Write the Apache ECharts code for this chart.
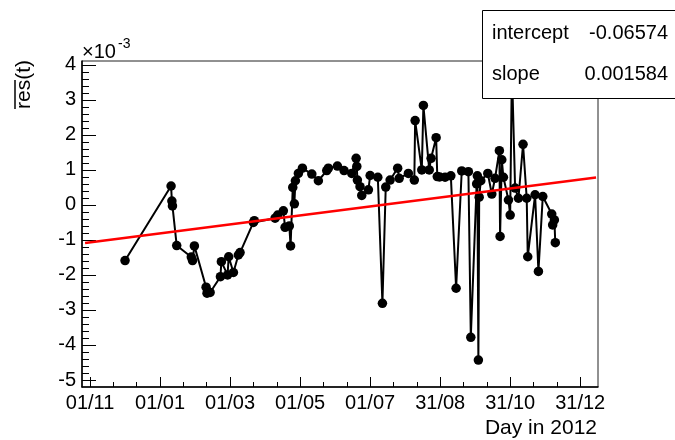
<!DOCTYPE html>
<html>
<head>
<meta charset="utf-8">
<title>res(t) vs day in 2012</title>
<script src="https://cdn.jsdelivr.net/npm/echarts@6/dist/echarts.min.js"></script>
<style>
  html, body { margin: 0; padding: 0; background: #fff; }
  #chart { width: 675px; height: 440px; }
</style>
</head>
<body>
<div id="chart"></div>
<script>
// Day number counted from 1 Jan 2012 (negative = late 2011)
const dayIn2012 = [
  -30.5, 9.6, 10.3, 10.8, 14.5, 27.2, 28.3, 29.9, 40.1, 40.9,
  43.6, 52.6, 53.4, 58.8, 59.8, 63.9, 68.2, 69.7, 81.3, 82.1,
  100.2, 102.5, 107.4, 108.9, 112.6, 113.7, 115.6, 117.0, 117.9, 120.5,
  124.0, 132.2, 137.9, 145.2, 146.6, 154.5, 160.3, 167.0, 170.8, 171.4,
  171.9, 174.2, 175.7, 181.5, 183.0, 189.7, 193.7, 196.6, 200.4, 207.0,
  208.3, 216.3, 221.5, 222.2, 228.0, 229.4, 234.5, 236.1, 240.5, 241.5,
  243.5, 248.3, 253.3, 257.9, 262.8, 268.6, 270.7, 275.8, 276.4, 277.3,
  278.0, 279.4, 285.5, 289.0, 291.8, 295.6, 296.2, 297.7, 299.1, 303.5,
  305.0, 306.5, 309.3, 312.2, 316.2, 319.4, 320.3, 326.7, 329.6, 333.4,
  341.2, 342.0, 343.5, 344.3
];
// Mean residual, in units of 1e-3
const residual = [
  -1.59, 0.54, 0.11, -0.03, -1.16, -1.49, -1.59, -1.17, -2.35, -2.52,
  -2.50, -2.05, -1.62, -2.00, -1.48, -1.93, -1.43, -1.36, -0.50, -0.45,
  -0.38, -0.29, -0.17, -0.64, -0.60, -1.17, 0.50, 0.03, 0.69, 0.90,
  1.05, 0.88, 0.69, 0.98, 1.05, 1.11, 0.98, 0.90, 1.33, 1.10,
  0.71, 0.52, 0.27, 0.43, 0.84, 0.79, -2.81, 0.51, 0.71, 1.05,
  0.76, 0.90, 0.71, 2.41, 1.00, 2.84, 1.00, 1.33, 1.92, 0.81,
  0.80, 0.79, 0.83, -2.38, 0.97, 0.95, -3.78, 0.60, 0.83, -4.43,
  0.22, 0.69, 0.90, 0.31, 0.76, 1.55, -0.90, 1.29, 0.79, 0.14,
  -0.29, 3.90, 0.48, 0.19, 1.73, 0.19, -1.48, 0.29, -1.90, 0.24,
  -0.26, -0.57, -0.43, -1.08
];

// Straight-line fit drawn across the frame
const fitDays = [-65.3, 379.8];
const fitRes = [-1.09, 0.78];
const fitParams = [
  { name: 'intercept', value: '-0.06574' },
  { name: 'slope', value: '0.001584' }
];

// Axis ticks
const xTickDays = [-61, 0, 61, 122, 183, 244, 305, 366];
const xTickLabels = ['01/11', '01/01', '01/03', '01/05', '01/07', '31/08', '31/10', '31/12'];
const yTickValues = [-5, -4, -3, -2, -1, 0, 1, 2, 3, 4];

const xMin = -68, xMax = 381.5;
const yMin = -5.2, yMax = 4.11;

const FONT = '"Liberation Sans", Arial, Helvetica, sans-serif';

// minor ticks: thirds on the time axis, fifths on the residual axis
const xMinor = [];
for (let i = 0; i < xTickDays.length - 1; i++) {
  const a = xTickDays[i], b = xTickDays[i + 1];
  xMinor.push(a + (b - a) / 3, a + 2 * (b - a) / 3);
}
const yMinor = [];
for (let k = -26; k <= 21; k++) {
  const v = k / 5;
  if (k % 5 !== 0 && v > yMin && v < yMax) yMinor.push(v);
}

const points = dayIn2012.map((d, i) => [d, residual[i]]);
const fitPoints = fitDays.map((d, i) => [d, fitRes[i]]);

const chart = echarts.init(document.getElementById('chart'), null, { renderer: 'canvas' });

const BOX_Z = 100;

const option = {
  animation: false,
  backgroundColor: '#fff',
  grid: {
    left: 82, right: 77, top: 61, bottom: 53,
    show: true, borderColor: '#222', borderWidth: 1, backgroundColor: 'transparent'
  },
  xAxis: [
    {
      type: 'value', min: xMin, max: xMax, position: 'bottom',
      axisLine: { show: true, onZero: false, lineStyle: { color: '#000', width: 1.5 } },
      axisTick: { show: true, inside: true, length: 10, customValues: xTickDays, lineStyle: { color: '#000', width: 1 } },
      axisLabel: {
        show: true, customValues: xTickDays, margin: 6,
        color: '#000', fontSize: 20, fontFamily: FONT,
        formatter: v => {
          const i = xTickDays.indexOf(v);
          return i >= 0 ? xTickLabels[i] : '';
        }
      },
      splitLine: { show: false }
    },
    {
      type: 'value', min: xMin, max: xMax, position: 'bottom',
      axisLine: { show: false, onZero: false },
      axisTick: { show: true, inside: true, length: 5, customValues: xMinor, lineStyle: { color: '#000', width: 1 } },
      axisLabel: { show: false },
      splitLine: { show: false }
    }
  ],
  yAxis: [
    {
      type: 'value', min: yMin, max: yMax, position: 'left',
      axisLine: { show: true, onZero: false, lineStyle: { color: '#000', width: 1.5 } },
      axisTick: { show: true, inside: true, length: 14, customValues: yTickValues, lineStyle: { color: '#000', width: 1 } },
      axisLabel: {
        show: true, customValues: yTickValues, margin: 6,
        color: '#000', fontSize: 20, fontFamily: FONT
      },
      splitLine: { show: false }
    },
    {
      type: 'value', min: yMin, max: yMax, position: 'left',
      axisLine: { show: false, onZero: false },
      axisTick: { show: true, inside: true, length: 7, customValues: yMinor, lineStyle: { color: '#000', width: 1 } },
      axisLabel: { show: false },
      splitLine: { show: false }
    }
  ],
  series: [
    {
      type: 'line', xAxisIndex: 0, yAxisIndex: 0,
      data: points,
      symbol: 'circle', symbolSize: 9.5,
      itemStyle: { color: '#000' },
      lineStyle: { color: '#000', width: 2 },
      z: 3
    },
    {
      type: 'line', xAxisIndex: 0, yAxisIndex: 0,
      data: fitPoints,
      symbol: 'none',
      lineStyle: { color: '#ff0000', width: 2.5 },
      z: 4
    }
  ],
  graphic: [
    // y-axis title: res(t) with a bar over "res"
    {
      type: 'group', x: 24, y: 60, rotation: Math.PI / 2,
      children: [
        {
          type: 'text', x: 0, y: 0, z: 50,
          style: { text: 'res(t)', font: '21px ' + FONT, fill: '#000', align: 'right', verticalAlign: 'middle' }
        },
        {
          type: 'line', z: 50,
          shape: { x1: -49, y1: -9, x2: -20, y2: -9 },
          style: { stroke: '#000', lineWidth: 1.5 }
        }
      ]
    },
    // exponent of the residual axis
    {
      type: 'text', x: 82, y: 52, z: 50,
      style: { text: '\u00d710', font: '20px ' + FONT, fill: '#000', align: 'left', verticalAlign: 'middle' }
    },
    {
      type: 'text', x: 118, y: 44, z: 50,
      style: { text: '-3', font: '14px ' + FONT, fill: '#000', align: 'left', verticalAlign: 'middle' }
    },
    // x-axis title
    {
      type: 'text', x: 597, y: 428, z: 50,
      style: { text: 'Day in 2012', font: '21px ' + FONT, fill: '#000', align: 'right', verticalAlign: 'middle' }
    },
    // fit parameter box, drawn over the plot
    {
      type: 'rect', z: BOX_Z,
      shape: { x: 482.5, y: 10.5, width: 200, height: 88 },
      style: { fill: '#fff', stroke: '#000', lineWidth: 1 }
    }
  ].concat(fitParams.flatMap((p, i) => [
    {
      type: 'text', x: 492, y: 33 + i * 41, z: BOX_Z + 1,
      style: { text: p.name, font: '20px ' + FONT, fill: '#000', align: 'left', verticalAlign: 'middle' }
    },
    {
      type: 'text', x: 668, y: 33 + i * 41, z: BOX_Z + 1,
      style: { text: p.value, font: '20px ' + FONT, fill: '#000', align: 'right', verticalAlign: 'middle' }
    }
  ]))
};

chart.setOption(option);
</script>
</body>
</html>
